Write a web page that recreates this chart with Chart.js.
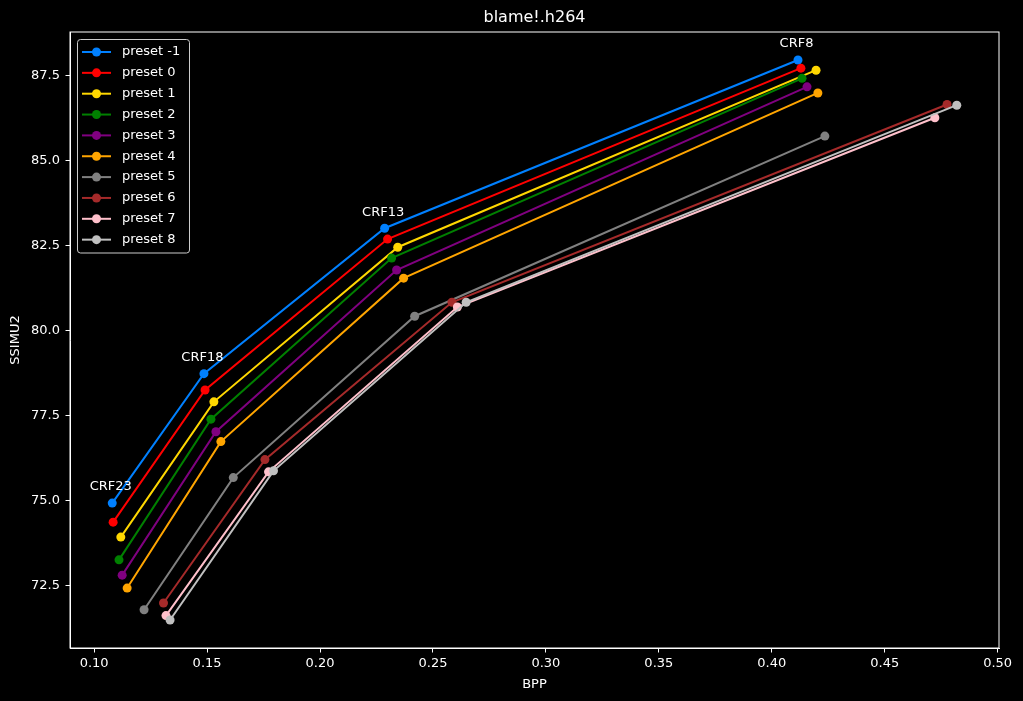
<!DOCTYPE html>
<html>
<head>
<meta charset="utf-8">
<title>blame!.h264</title>
<script src="https://cdn.jsdelivr.net/npm/chart.js@4.4.1/dist/chart.umd.min.js"></script>
<style>
  html, body { margin: 0; padding: 0; background: #000; }
  #wrap { width: 1023px; height: 701px; }
</style>
</head>
<body>
<div id="wrap"><canvas id="ssimChart" width="1023" height="701"></canvas></div>
<script>
// values
const crfLabels = ['CRF23', 'CRF18', 'CRF13', 'CRF8'];
const presetNames = ['preset -1', 'preset 0', 'preset 1', 'preset 2', 'preset 3',
                     'preset 4', 'preset 5', 'preset 6', 'preset 7', 'preset 8'];

const bppPm1 = [0.1080, 0.1486, 0.2286, 0.4116];
const ssimPm1 = [74.93, 78.74, 83.02, 87.97];
const bppP0 = [0.1084, 0.1491, 0.2299, 0.4129];
const ssimP0 = [74.37, 78.26, 82.70, 87.73];
const bppP1 = [0.1118, 0.1530, 0.2344, 0.4196];
const ssimP1 = [73.93, 77.91, 82.46, 87.67];
const bppP2 = [0.1110, 0.1517, 0.2317, 0.4134];
const ssimP2 = [73.26, 77.40, 82.14, 87.43];
const bppP3 = [0.1124, 0.1539, 0.2339, 0.4156];
const ssimP3 = [72.81, 77.03, 81.79, 87.18];
const bppP4 = [0.1146, 0.1561, 0.2370, 0.4204];
const ssimP4 = [72.43, 76.74, 81.55, 87.00];
const bppP5 = [0.1221, 0.1616, 0.2419, 0.4235];
const ssimP5 = [71.79, 75.68, 80.43, 85.73];
const bppP6 = [0.1307, 0.1756, 0.2584, 0.4776];
const ssimP6 = [71.99, 76.21, 80.84, 86.66];
const bppP7 = [0.1318, 0.1772, 0.2608, 0.4722];
const ssimP7 = [71.62, 75.85, 80.70, 86.27];
const bppP8 = [0.1336, 0.1794, 0.2647, 0.4819];
const ssimP8 = [71.49, 75.88, 80.84, 86.64];

const xTickValues = [0.10, 0.15, 0.20, 0.25, 0.30, 0.35, 0.40, 0.45, 0.50];
const yTickValues = [72.5, 75.0, 77.5, 80.0, 82.5, 85.0, 87.5];

const bppSeries = [bppPm1, bppP0, bppP1, bppP2, bppP3, bppP4, bppP5, bppP6, bppP7, bppP8];
const ssimSeries = [ssimPm1, ssimP0, ssimP1, ssimP2, ssimP3, ssimP4, ssimP5, ssimP6, ssimP7, ssimP8];

const colors = ['#0080ff', '#ff0000', '#ffd700', '#008000', '#800080',
                '#ffa500', '#808080', '#a52a2a', '#ffc0cb', '#c0c0c0'];

const FONT = 'DejaVu Sans';

// matplotlib style auto limits (5% margin)
const allX = bppSeries.flat(), allY = ssimSeries.flat();
const xLo = Math.min(...allX), xHi = Math.max(...allX);
const yLo = Math.min(...allY), yHi = Math.max(...allY);
const xMargin = (xHi - xLo) * 0.05, yMargin = (yHi - yLo) * 0.05;

const datasets = presetNames.map((name, i) => ({
  label: name,
  data: bppSeries[i].map((x, j) => ({ x: x, y: ssimSeries[i][j] })),
  borderColor: colors[i],
  backgroundColor: colors[i],
  borderWidth: 2,
  pointRadius: 4.5,
  pointBorderWidth: 0,
  pointHoverRadius: 4.5,
  fill: false,
  tension: 0,
  order: presetNames.length - i  // later presets drawn on top, like matplotlib
}));

// frame, title, CRF labels and the legend box
const extrasPlugin = {
  id: 'extras',
  afterDraw(chart) {
    const ctx = chart.ctx;
    const area = chart.chartArea;
    ctx.save();

    ctx.strokeStyle = '#ffffff';
    ctx.lineWidth = 1;
    ctx.strokeRect(area.left, area.top, area.right - area.left, area.bottom - area.top);

    ctx.fillStyle = '#ffffff';
    ctx.font = '16px "' + FONT + '"';
    ctx.textAlign = 'center';
    ctx.textBaseline = 'middle';
    ctx.fillText('blame!.h264', (area.left + area.right) / 2, 18);

    // CRF labels above the preset -1 points
    const meta = chart.getDatasetMeta(0);
    ctx.font = '13px "' + FONT + '"';
    meta.data.forEach((pt, j) => {
      ctx.fillText(crfLabels[j], pt.x - 1.5, pt.y - 16);
    });

    // legend
    const bx = area.left + 7, by = area.top + 7;
    const bw = 112, rowH = 20.85;
    const bh = rowH * presetNames.length + 5;
    ctx.fillStyle = 'rgba(0,0,0,0.8)';
    ctx.strokeStyle = '#cccccc';
    ctx.lineWidth = 1;
    ctx.beginPath();
    ctx.roundRect(bx + 0.5, by + 0.5, bw, bh, 3);
    ctx.fill();
    ctx.stroke();
    ctx.textAlign = 'left';
    presetNames.forEach((name, i) => {
      const cy = by + 13 + i * rowH;
      ctx.strokeStyle = colors[i];
      ctx.lineWidth = 2;
      ctx.beginPath();
      ctx.moveTo(bx + 5, cy);
      ctx.lineTo(bx + 34, cy);
      ctx.stroke();
      ctx.fillStyle = colors[i];
      ctx.beginPath();
      ctx.arc(bx + 19.5, cy, 4.5, 0, Math.PI * 2);
      ctx.fill();
      ctx.fillStyle = '#ffffff';
      ctx.fillText(name, bx + 45, cy);
    });
    ctx.restore();
  }
};

new Chart(document.getElementById('ssimChart'), {
  type: 'line',
  data: { datasets: datasets },
  options: {
    responsive: false,
    animation: false,
    devicePixelRatio: 1,
    layout: { padding: { top: 32, right: 24, bottom: 0, left: 0 } },
    plugins: {
      legend: { display: false },
      title: { display: false },
      tooltip: { enabled: false }
    },
    scales: {
      x: {
        type: 'linear',
        min: xLo - xMargin,
        max: xHi + xMargin,
        afterBuildTicks: (scale) => { scale.ticks = xTickValues.map(v => ({ value: v })); },
        afterFit: (scale) => { scale.height = 53; },
        ticks: {
          color: '#ffffff',
          font: { family: FONT, size: 13 },
          padding: 3.5,
          maxRotation: 0,
          autoSkip: false,
          callback: (v) => Number(v).toFixed(2)
        },
        grid: { drawOnChartArea: false, drawTicks: true, tickLength: 4.5, color: '#ffffff' },
        border: { display: true, color: '#ffffff', width: 1 },
        title: {
          display: true,
          text: 'BPP',
          color: '#ffffff',
          font: { family: FONT, size: 13 },
          padding: { top: 0, bottom: 9 }
        }
      },
      y: {
        type: 'linear',
        min: yLo - yMargin,
        max: yHi + yMargin,
        afterBuildTicks: (scale) => { scale.ticks = yTickValues.map(v => ({ value: v })); },
        afterFit: (scale) => { scale.width = 70; },
        ticks: {
          color: '#ffffff',
          font: { family: FONT, size: 13 },
          padding: 5.5,
          autoSkip: false,
          callback: (v) => Number(v).toFixed(1)
        },
        grid: { drawOnChartArea: false, drawTicks: true, tickLength: 4.5, color: '#ffffff' },
        border: { display: true, color: '#ffffff', width: 1 },
        title: {
          display: true,
          text: 'SSIMU2',
          color: '#ffffff',
          font: { family: FONT, size: 13 },
          padding: { top: 8, bottom: 0 }
        }
      }
    }
  },
  plugins: [extrasPlugin]
});
</script>
</body>
</html>
